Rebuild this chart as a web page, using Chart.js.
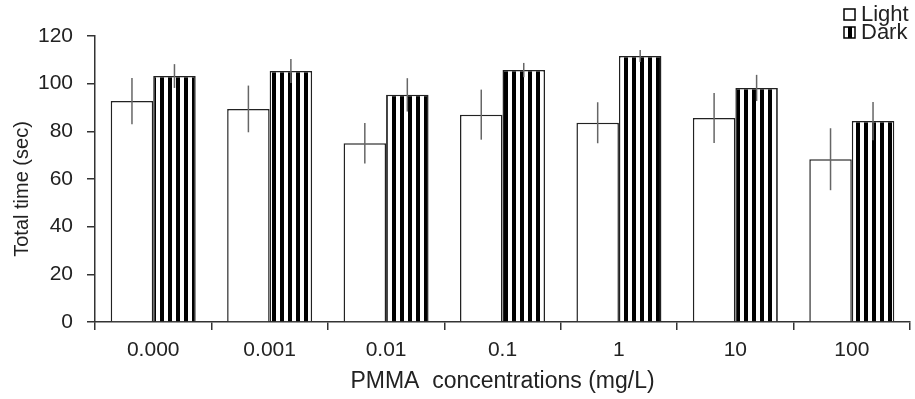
<!DOCTYPE html>
<html>
<head>
<meta charset="utf-8">
<script src="https://cdn.jsdelivr.net/npm/chart.js@4"></script>
<style>
  html, body { margin: 0; padding: 0; background: #fff; }
  #wrap { width: 915px; height: 399px; }
</style>
</head>
<body>
<div id="wrap"><canvas id="timeChart" width="915" height="399"></canvas></div>
<script>
const categories = ['0.000', '0.001', '0.01', '0.1', '1', '10', '100'];
const lightTime = [92.7, 89.4, 75, 87, 83.6, 85.6, 68.3];
const lightErr = [9.7, 9.8, 8.5, 10.5, 8.6, 10.5, 13];
const darkTime = [103.2, 105.3, 95.3, 105.7, 111.6, 98.2, 84.3];
const darkErr = [5, 5, 7, 3, 2.5, 5.5, 8];
const yTicks = [0, 20, 40, 60, 80, 100, 120];

const FONT = 'Arial, "Liberation Sans", sans-serif';
const INK = '#222';

// vertical black/white stripes for the dark bars
function stripes() {
    const c = document.createElement('canvas');
    c.width = 8; c.height = 8;
    const g = c.getContext('2d');
    g.fillStyle = '#fff';
    g.fillRect(0, 0, 8, 8);
    g.fillStyle = '#000';
    g.fillRect(0, 0, 4, 8);
    return g.createPattern(c, 'repeat');
}

const ctx = document.getElementById('timeChart').getContext('2d');
const stripeFill = stripes();

const errorBars = {
    id: 'errorBars',
    afterDatasetsDraw(chart) {
        const y = chart.scales.y;
        const c = chart.ctx;
        c.save();
        c.strokeStyle = '#666';
        c.lineWidth = 1.5;
        chart.data.datasets.forEach((ds, i) => {
            const meta = chart.getDatasetMeta(i);
            meta.data.forEach((bar, j) => {
                const v = ds.data[j], e = ds.err[j];
                c.beginPath();
                c.moveTo(bar.x, y.getPixelForValue(v + e));
                c.lineTo(bar.x, y.getPixelForValue(v - e));
                c.stroke();
            });
        });
        c.restore();
    }
};

// two-row legend in the top right corner, plus the y title sitting a bit low
const extras = {
    id: 'extras',
    afterDraw(chart) {
        const c = chart.ctx;
        c.save();
        c.font = '22px ' + FONT;
        c.textBaseline = 'middle';
        chart.data.datasets.forEach((ds, i) => {
            const mid = 14 + i * 18;
            c.fillStyle = i === 0 ? '#fff' : stripeFill;
            c.fillRect(844, mid - 5, 11, 11);
            c.strokeStyle = '#000';
            c.lineWidth = 1.5;
            c.strokeRect(844, mid - 5, 11, 11);
            c.fillStyle = INK;
            c.fillText(ds.label, 861, mid + 1);
        });

        c.translate(22, 189);
        c.rotate(-Math.PI / 2);
        c.font = '20px ' + FONT;
        c.textAlign = 'center';
        c.fillText('Total time (sec)', 0, 0);
        c.restore();
    }
};

new Chart(ctx, {
    type: 'bar',
    data: {
        labels: categories,
        datasets: [
            {
                label: 'Light',
                data: lightTime,
                err: lightErr,
                backgroundColor: '#fff',
                borderColor: '#222',
                borderWidth: 1.5
            },
            {
                label: 'Dark',
                data: darkTime,
                err: darkErr,
                backgroundColor: stripeFill,
                borderColor: '#222',
                borderWidth: 1.5
            }
        ]
    },
    options: {
        responsive: false,
        animation: false,
        layout: { padding: { top: 36, right: 5, left: 0, bottom: 0 } },
        datasets: { bar: { categoryPercentage: 0.73, barPercentage: 1.0 } },
        scales: {
            x: {
                grid: { offset: true, drawOnChartArea: false, tickLength: 8, color: '#333', lineWidth: 1.5 },
                border: { color: '#333', width: 1.5 },
                ticks: { color: INK, font: { size: 21, family: FONT }, padding: 8 },
                title: {
                    display: true,
                    text: 'PMMA  concentrations (mg/L)',
                    color: INK,
                    font: { size: 23, family: FONT },
                    padding: { top: 0 }
                },
                afterFit: s => { s.height = 77; }
            },
            y: {
                min: 0,
                max: 120,
                afterBuildTicks: s => { s.ticks = yTicks.map(v => ({ value: v })); },
                grid: { drawOnChartArea: false, tickLength: 8, color: '#333', lineWidth: 1.5 },
                border: { color: '#333', width: 1.5 },
                ticks: { color: INK, font: { size: 21, family: FONT }, padding: 14 },
                afterFit: s => { s.width = 95; }
            }
        },
        plugins: {
            legend: { display: false },
            tooltip: { enabled: false }
        }
    },
    plugins: [errorBars, extras]
});
</script>
</body>
</html>
